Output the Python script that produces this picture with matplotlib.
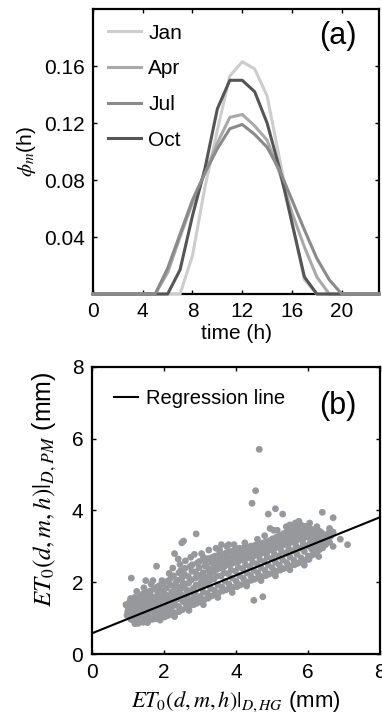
import matplotlib
matplotlib.use('Agg')
import matplotlib.pyplot as plt
import numpy as np

plt.rcParams['font.family'] = ['Liberation Sans', 'DejaVu Sans']
plt.rcParams['mathtext.fontset'] = 'stix'

# (a) hourly distribution coefficients, hours 0..23
hours = list(range(24))
jan = [0, 0, 0, 0, 0, 0, 0, 0, 0.027, 0.075, 0.115, 0.153, 0.163, 0.158,
       0.139, 0.095, 0.050, 0.010, 0, 0, 0, 0, 0, 0]
apr = [0, 0, 0, 0, 0, 0, 0.015, 0.040, 0.064, 0.085, 0.106, 0.124, 0.126, 0.118,
       0.108, 0.085, 0.057, 0.033, 0.012, 0, 0, 0, 0, 0]
jul = [0, 0, 0, 0, 0, 0, 0.018, 0.042, 0.066, 0.085, 0.102, 0.116, 0.119, 0.112,
       0.103, 0.087, 0.066, 0.045, 0.025, 0.010, 0, 0, 0, 0]
octo = [0, 0, 0, 0, 0, 0, 0, 0.017, 0.055, 0.088, 0.130, 0.150, 0.150, 0.142,
        0.120, 0.088, 0.050, 0.012, 0, 0, 0, 0, 0, 0]
month_names = ['Jan', 'Apr', 'Jul', 'Oct']
month_colors = ['#cdcdcd', '#a9a9a9', '#8a8a8a', '#555555']
month_z = [3, 4, 6, 5]

# (b) daily ET0: Hargreaves (x) vs Penman-Monteith (y)
hg = [
    0.98, 1.02, 1.00, 1.04, 0.97, 1.01, 1.03,
    1.09, 1.12, 1.07, 1.13, 1.10, 1.08, 1.14,
    1.21, 1.18, 1.23, 1.19, 1.22, 1.17, 1.24,
    1.29, 1.32, 1.27, 1.33, 1.30, 1.28, 1.34,
    1.41, 1.38, 1.43, 1.37, 1.42, 1.39, 1.44,
    1.49, 1.52, 1.47, 1.53, 1.50, 1.48, 1.54,
    1.61, 1.58, 1.63, 1.57, 1.62, 1.59, 1.64,
    1.69, 1.72, 1.67, 1.73, 1.70, 1.68, 1.74,
    1.81, 1.78, 1.83, 1.77, 1.82, 1.79, 1.84,
    1.89, 1.92, 1.87, 1.93, 1.90, 1.88, 1.94,
    2.01, 1.98, 2.03, 1.97, 2.02, 1.99, 2.04,
    2.09, 2.12, 2.07, 2.13, 2.10, 2.08, 2.14,
    2.21, 2.18, 2.23, 2.17, 2.22, 2.19, 2.24,
    2.29, 2.32, 2.27, 2.33, 2.30, 2.28, 2.34,
    2.41, 2.38, 2.43, 2.37, 2.42, 2.39, 2.44,
    2.49, 2.52, 2.47, 2.53, 2.50, 2.48, 2.54,
    2.61, 2.58, 2.63, 2.57, 2.62, 2.59, 2.64,
    2.69, 2.72, 2.67, 2.73, 2.70, 2.68, 2.74,
    2.81, 2.78, 2.83, 2.77, 2.82, 2.79, 2.84,
    2.89, 2.92, 2.87, 2.93, 2.90, 2.88, 2.94,
    3.01, 2.98, 3.03, 2.97, 3.02, 2.99, 3.04,
    3.09, 3.12, 3.07, 3.13, 3.10, 3.08, 3.14,
    3.21, 3.18, 3.23, 3.17, 3.22, 3.19, 3.24,
    3.29, 3.32, 3.27, 3.33, 3.30, 3.28, 3.34,
    3.41, 3.38, 3.43, 3.37, 3.42, 3.39, 3.44,
    3.49, 3.52, 3.47, 3.53, 3.50, 3.48, 3.54,
    3.61, 3.58, 3.63, 3.57, 3.62, 3.59, 3.64,
    3.69, 3.72, 3.67, 3.73, 3.70, 3.68, 3.74,
    3.81, 3.78, 3.83, 3.77, 3.82, 3.79, 3.84,
    3.89, 3.92, 3.87, 3.93, 3.90, 3.88, 3.94,
    4.01, 3.98, 4.03, 3.97, 4.02, 3.99, 4.04,
    4.09, 4.12, 4.07, 4.13, 4.10, 4.08, 4.14,
    4.21, 4.18, 4.23, 4.17, 4.22, 4.19, 4.24,
    4.29, 4.32, 4.27, 4.33, 4.30, 4.28, 4.34,
    4.41, 4.38, 4.43, 4.37, 4.42, 4.39, 4.44,
    4.49, 4.52, 4.47, 4.53, 4.50, 4.48, 4.54,
    4.61, 4.58, 4.63, 4.57, 4.62, 4.59, 4.64,
    4.69, 4.72, 4.67, 4.73, 4.70, 4.68, 4.74,
    4.81, 4.78, 4.83, 4.77, 4.82, 4.79, 4.84,
    4.89, 4.92, 4.87, 4.93, 4.90, 4.88, 4.94,
    5.01, 4.98, 5.03, 4.97, 5.02, 4.99, 5.04,
    5.09, 5.12, 5.07, 5.13, 5.10, 5.08, 5.14,
    5.21, 5.18, 5.23, 5.17, 5.22, 5.19, 5.24,
    5.29, 5.32, 5.27, 5.33, 5.30, 5.28, 5.34,
    5.41, 5.38, 5.43, 5.37, 5.42, 5.39, 5.44,
    5.49, 5.52, 5.47, 5.53, 5.50, 5.48, 5.54,
    5.61, 5.58, 5.63, 5.57, 5.62, 5.59, 5.64,
    5.69, 5.72, 5.67, 5.73, 5.70, 5.68, 5.74,
    5.81, 5.78, 5.83, 5.77, 5.82, 5.79, 5.84,
    5.89, 5.92, 5.87, 5.93, 5.90, 5.88, 5.94,
    6.01, 5.98, 6.03, 5.97, 6.02, 5.99, 6.04,
    6.09, 6.12, 6.07, 6.13, 6.10, 6.08, 6.14,
    6.21, 6.18, 6.23, 6.17, 6.22, 6.19, 6.24,
    6.29, 6.32, 6.27, 6.33, 6.30, 6.28, 6.34,
    6.41, 6.38, 6.43, 6.37, 6.42, 6.39, 6.44,
    6.49, 6.53, 6.47, 6.56, 6.51, 6.60, 6.63,
]
pm = [
    1.08, 1.31, 1.19, 1.42, 1.36, 1.14, 1.26,
    0.97, 1.23, 1.49, 1.11, 1.36, 1.55, 1.03,
    1.17, 0.92, 1.41, 1.58, 1.06, 1.29, 1.50,
    0.86, 1.33, 1.12, 1.61, 1.24, 0.99, 1.46,
    1.04, 1.27, 0.89, 1.52, 1.68, 1.17, 1.39,
    0.94, 1.43, 1.21, 1.72, 1.09, 1.58, 1.32,
    1.26, 0.96, 1.51, 1.14, 1.76, 1.37, 1.63,
    1.02, 1.57, 1.29, 1.81, 1.44, 0.97, 1.16,
    1.35, 1.11, 1.66, 0.99, 1.87, 1.48, 1.24,
    1.07, 1.44, 1.78, 1.21, 1.58, 1.91, 1.31,
    1.19, 1.62, 1.04, 1.95, 1.39, 1.76, 1.51,
    1.46, 1.08, 1.84, 1.29, 2.03, 1.64, 1.17,
    1.27, 1.93, 1.11, 1.56, 1.74, 2.11, 1.42,
    1.61, 1.15, 2.18, 1.37, 1.88, 1.49, 1.99,
    1.33, 2.06, 1.19, 1.71, 2.27, 1.54, 1.86,
    1.83, 1.24, 2.33, 1.47, 2.12, 1.66, 1.98,
    1.41, 2.22, 1.29, 1.92, 1.63, 2.39, 1.78,
    1.98, 1.34, 1.57, 2.44, 1.76, 2.16, 1.47,
    1.52, 2.31, 1.38, 2.07, 1.83, 2.49, 1.66,
    2.13, 1.42, 1.74, 2.54, 1.93, 2.29, 1.58,
    1.61, 2.41, 1.47, 2.19, 1.86, 2.58, 2.02,
    2.27, 1.52, 1.91, 2.62, 1.73, 2.08, 2.46,
    1.69, 2.49, 1.56, 2.14, 2.66, 1.97, 2.33,
    2.37, 1.62, 2.04, 2.69, 1.83, 2.21, 2.55,
    1.78, 2.58, 1.66, 2.29, 2.73, 2.09, 2.44,
    2.46, 1.71, 2.17, 2.77, 1.93, 2.36, 2.61,
    1.87, 2.63, 1.76, 2.41, 2.79, 2.18, 2.52,
    2.54, 1.79, 2.27, 2.82, 2.03, 2.44, 2.68,
    1.95, 2.71, 1.82, 2.49, 2.86, 2.24, 2.59,
    2.61, 1.86, 2.34, 2.88, 2.12, 2.52, 2.74,
    2.03, 2.78, 1.88, 2.56, 2.91, 2.31, 2.66,
    2.68, 1.93, 2.42, 2.93, 2.19, 2.59, 2.81,
    2.11, 2.84, 1.97, 2.63, 2.96, 2.38, 2.73,
    2.74, 2.01, 2.49, 2.98, 2.27, 2.66, 2.87,
    2.19, 2.91, 2.06, 2.69, 3.01, 2.44, 2.79,
    2.81, 2.09, 2.56, 3.03, 2.34, 2.72, 2.93,
    2.26, 2.97, 2.12, 2.76, 3.06, 2.51, 2.86,
    2.88, 2.16, 2.63, 3.09, 2.41, 2.79, 2.99,
    2.33, 3.04, 2.19, 2.83, 3.12, 2.58, 2.93,
    2.95, 2.23, 2.71, 3.16, 2.48, 2.86, 3.06,
    2.41, 3.11, 2.26, 2.91, 3.21, 2.66, 3.01,
    3.03, 2.31, 2.78, 3.26, 2.56, 2.94, 3.14,
    2.48, 3.19, 2.34, 2.98, 3.31, 2.73, 3.09,
    3.11, 2.38, 2.86, 3.36, 2.63, 3.02, 3.22,
    2.55, 3.27, 2.41, 3.06, 3.41, 2.81, 3.17,
    3.19, 2.46, 2.93, 3.46, 2.71, 3.09, 3.32,
    2.62, 3.36, 2.49, 3.13, 3.51, 2.88, 3.24,
    3.27, 2.53, 3.01, 3.55, 2.78, 3.16, 3.42,
    2.68, 3.44, 2.56, 3.21, 3.59, 2.95, 3.33,
    3.34, 2.61, 3.08, 3.56, 2.86, 3.23, 3.47,
    2.73, 3.49, 2.64, 3.27, 3.53, 3.02, 3.38,
    3.36, 2.76, 3.13, 3.47, 2.93, 3.26, 3.05,
    2.84, 3.41, 2.79, 3.18, 3.44, 3.01, 3.31,
    3.29, 2.91, 3.12, 3.42, 2.98, 3.21, 3.37,
    2.96, 3.38, 3.07, 3.26, 3.01, 3.33, 3.17,
    3.05, 3.31, 3.16, 3.36, 3.22, 3.12, 3.28,
]
# ragged points along the edges of the cloud
hg_edge = [1.25, 1.45, 1.65, 1.95, 2.15, 2.25, 2.45, 2.60, 2.75, 2.85, 3.05, 3.25,
           3.45, 3.55, 3.75, 3.95, 4.25, 4.60, 5.15, 5.40, 5.65, 5.75, 6.05, 6.25,
           6.60, 1.20, 1.55, 1.90, 2.30, 2.70, 3.10, 3.50, 3.90, 4.30, 4.70, 5.10,
           5.50, 5.90, 6.30, 6.70]
pm_edge = [1.75, 1.85, 1.95, 2.05, 2.25, 2.40, 2.50, 2.60, 2.70, 2.78, 2.80, 2.90,
           2.95, 2.90, 3.00, 3.05, 3.10, 3.20, 3.45, 3.55, 3.65, 3.70, 3.65, 3.55,
           3.50, 0.85, 0.88, 0.95, 1.05, 1.22, 1.38, 1.58, 1.72, 1.90, 2.05, 2.18,
           2.35, 2.48, 2.72, 3.00]
# scattered points away from the main cloud
hg_out = [1.10, 0.95, 1.50, 1.70, 1.80, 2.30, 2.40, 2.50, 2.55, 2.90, 3.10, 3.60,
          3.80, 4.10, 4.45, 4.55, 4.65, 4.90, 5.10, 5.30, 6.40, 6.70, 6.70, 6.90,
          7.10, 4.50, 4.75, 4.80, 4.95, 5.05, 5.50, 5.90]
pm_out = [2.12, 1.38, 2.05, 2.05, 2.45, 2.80, 2.65, 3.10, 3.15, 3.35, 2.70, 3.05,
          3.05, 2.95, 4.20, 4.55, 5.70, 3.90, 4.05, 3.90, 3.95, 3.80, 3.40, 3.20,
          3.05, 1.50, 1.60, 3.30, 3.50, 3.45, 3.60, 3.55]
reg_intercept = 0.58
reg_slope = 0.404

fig = plt.figure(figsize=(3.82, 7.24), dpi=100)
ax1 = fig.add_axes([0.2435, 0.5939, 0.7487, 0.3936])
ax2 = fig.add_axes([0.240, 0.0963, 0.7547, 0.3972])

for ax in (ax1, ax2):
    for s in ax.spines.values():
        s.set_linewidth(1.6)
    ax.tick_params(direction='in', length=3, width=1, top=True, right=True,
                   labelsize=15, pad=6)

# panel (a)
for vals, name, col, z in zip([jan, apr, jul, octo], month_names, month_colors, month_z):
    ax1.plot(hours, vals, color=col, lw=2.2, label=name, zorder=z, clip_on=False)
ax1.set_xlim(0, 23)
ax1.set_ylim(0, 0.2)
ax1.set_xticks([0, 4, 8, 12, 16, 20])
ax1.set_yticks([0.04, 0.08, 0.12, 0.16])
ax1.set_yticklabels(['0.04', '0.08', '0.12', '0.16'])
ax1.set_xlabel('time (h)', fontsize=15, labelpad=2)
ax1.set_ylabel(r'$\phi_m$(h)', fontsize=15, labelpad=4)
ax1.legend(loc='upper left', frameon=False, fontsize=15, handlelength=1.6,
           handletextpad=0.35, labelspacing=0.8, borderaxespad=0.3)
ax1.text(0.857, 0.905, '(a)', transform=ax1.transAxes, fontsize=22,
         ha='center', va='center')

# panel (b)
dot = '#97989c'
ax2.scatter(hg, pm, s=24, color=dot, edgecolors='none', zorder=2)
ax2.scatter(hg_edge, pm_edge, s=24, color=dot, edgecolors='none', zorder=2)
ax2.scatter(hg_out, pm_out, s=24, color=dot, edgecolors='none', zorder=2)
xl = np.array([0, 8])
ax2.plot(xl, reg_intercept + reg_slope * xl, color='black', lw=1.5,
         label='Regression line', zorder=3)
ax2.set_xlim(0, 8)
ax2.set_ylim(0, 8)
ax2.set_xticks([0, 2, 4, 6, 8])
ax2.set_yticks([0, 2, 4, 6, 8])
ax2.set_xlabel(r'$\mathit{ET_0(d,m,h)}|_{\mathit{D,HG}}$ (mm)', fontsize=16, labelpad=6)
ax2.set_ylabel(r'$\mathit{ET_0(d,m,h)}|_{\mathit{D,PM}}$ (mm)', fontsize=18)
ax2.yaxis.set_label_coords(-0.115, 0.575)
ax2.legend(loc='upper left', frameon=False, fontsize=14.5, handlelength=1.2,
           handletextpad=0.4, borderaxespad=0.7)
ax2.text(0.855, 0.865, '(b)', transform=ax2.transAxes, fontsize=22,
         ha='center', va='center')

fig.savefig('out.png', dpi=100)
